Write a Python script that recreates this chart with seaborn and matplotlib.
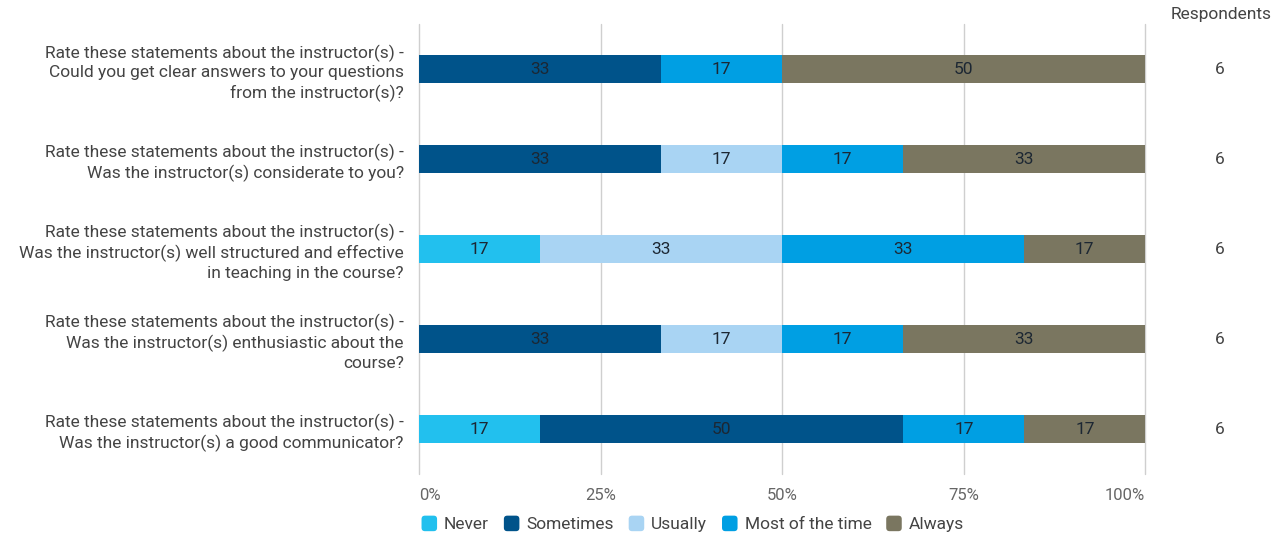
import matplotlib
matplotlib.use("Agg")
import matplotlib.pyplot as plt
import seaborn as sns
import pandas as pd
from matplotlib.patches import Patch, FancyBboxPatch
from matplotlib.legend_handler import HandlerPatch

questions = [
    "Rate these statements about the instructor(s) -\nCould you get clear answers to your questions\nfrom the instructor(s)?",
    "Rate these statements about the instructor(s) -\nWas the instructor(s) considerate to you?",
    "Rate these statements about the instructor(s) -\nWas the instructor(s) well structured and effective\nin teaching in the course?",
    "Rate these statements about the instructor(s) -\nWas the instructor(s) enthusiastic about the\ncourse?",
    "Rate these statements about the instructor(s) -\nWas the instructor(s) a good communicator?",
]
categories = ["Never", "Sometimes", "Usually", "Most of the time", "Always"]
never = [0, 0, 16.7, 0, 16.7]
sometimes = [33.3, 33.3, 0, 33.3, 50.0]
usually = [0, 16.7, 33.3, 16.7, 0]
most_time = [16.7, 16.7, 33.3, 16.7, 16.7]
always = [50.0, 33.3, 16.7, 33.3, 16.7]
respondents = [6, 6, 6, 6, 6]
tick_labels = ["0%", "25%", "50%", "75%", "100%"]
colors = ["#22c0ee", "#00538a", "#a9d4f3", "#009fe3", "#7a7660"]

sns.set_theme(style="white")
plt.rcParams["font.family"] = ["Roboto", "DejaVu Sans"]

series = [never, sometimes, usually, most_time, always]
df = pd.DataFrame({c: s for c, s in zip(categories, series)})
df["question"] = questions
cum = df[categories].cumsum(axis=1)

fig = plt.figure(figsize=(12.72, 5.36), dpi=100)
ax = fig.add_axes([419 / 1272, 62 / 536, 726 / 1272, 450 / 536])

# stacked bars: draw cumulative totals from last to first
for i in range(len(categories) - 1, -1, -1):
    cdf = pd.DataFrame({"question": questions, "value": cum[categories[i]].values})
    sns.barplot(data=cdf, x="value", y="question", color=colors[i], orient="h",
                width=0.31, ax=ax, saturation=1, linewidth=0, order=questions)

# labels
for r in range(len(questions)):
    left = 0
    for i, c in enumerate(categories):
        v = df.loc[r, c]
        if v > 0:
            ax.text(left + v / 2, r, f"{round(v):.0f}", ha="center", va="center",
                    fontsize=12.5, color="#1c2733")
        left += v

ax.set_xlim(0, 100)
ax.set_ylim(4.5, -0.5)
ax.set_xticks([0, 25, 50, 75, 100])
ax.set_xticklabels(tick_labels, color="#666666", fontsize=12)
xl = ax.get_xticklabels()
xl[0].set_ha("left")
xl[-1].set_ha("right")
ax.tick_params(axis="x", length=0, pad=10)
ax.tick_params(axis="y", length=0, pad=11)
ax.set_yticklabels(questions, fontsize=12.5, color="#444444", ha="right",
                   linespacing=1.32)
for lab in ax.get_yticklabels():
    lab.set_multialignment("right")
ax.set_xlabel("")
ax.set_ylabel("")
for sp in ax.spines.values():
    sp.set_visible(False)
ax.xaxis.grid(True, color="#cfcfcf", linewidth=1)
for gl in ax.get_xgridlines():
    gl.set_clip_on(False)
ax.set_axisbelow(True)

# respondents column
fig.text(1221 / 1272, 1 - 14 / 536, "Respondents", ha="center", va="center",
         fontsize=12.5, color="#444444")
for r, n in enumerate(respondents):
    ax.text(1.0 + (1220 - 1145) / 726, r, str(n), transform=ax.get_yaxis_transform(),
            ha="center", va="center", fontsize=12.5, color="#444444")


class RoundHandler(HandlerPatch):
    def create_artists(self, legend, orig_handle, xdescent, ydescent, width, height,
                       fontsize, trans):
        s = min(width, height)
        p = FancyBboxPatch((-xdescent + (width - s) / 2, -ydescent + (height - s) / 2), s, s,
                           boxstyle="round,pad=0,rounding_size=%f" % (s * 0.22),
                           facecolor=orig_handle.get_facecolor(), edgecolor="none",
                           transform=trans)
        return [p]


handles = [Patch(facecolor=c, edgecolor="none", label=l) for c, l in zip(colors, categories)]
fig.legend(handles=handles, loc="center left", bbox_to_anchor=(405 / 1272, 1 - 524 / 536),
           ncol=5, frameon=False, fontsize=12.5, handlelength=1.0, handleheight=1.0,
           handletextpad=0.35, columnspacing=0.8, labelcolor="#444444",
           handler_map={Patch: RoundHandler()})

fig.savefig("out.png", dpi=100)
